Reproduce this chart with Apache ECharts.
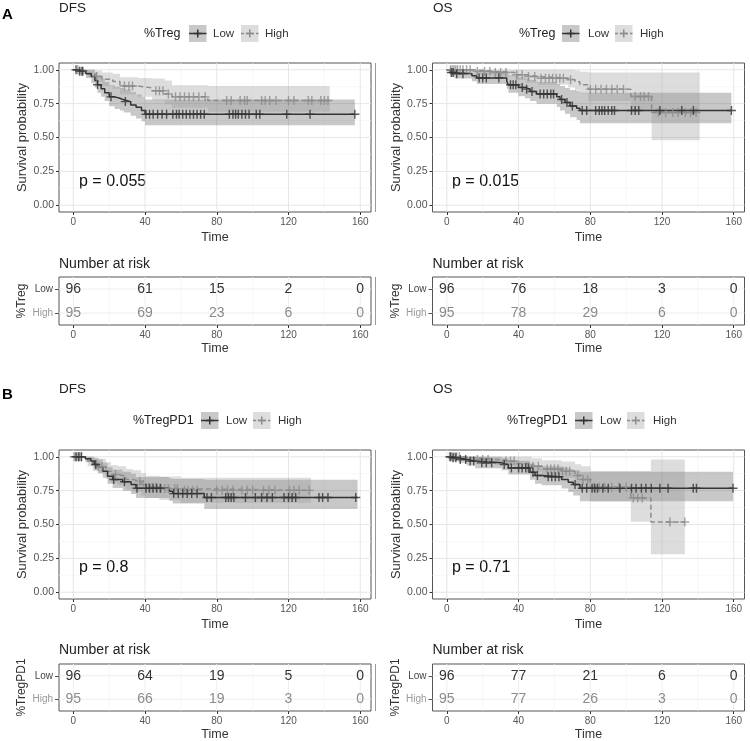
<!DOCTYPE html>
<html><head><meta charset="utf-8">
<script src="https://cdn.jsdelivr.net/npm/echarts@6/dist/echarts.min.js"></script>
<style>html,body{margin:0;padding:0;background:#fff}#c{width:750px;height:741px}</style>
</head><body><div id="c"></div>
<script>
// ---------- shared ticks ----------
const timeTicks = [0, 40, 80, 120, 160];
const timeMinor = [20, 60, 100, 140];
const survTicks = [0, 0.25, 0.5, 0.75, 1];
const survTickLabels = ['0.00', '0.25', '0.50', '0.75', '1.00'];
const survMinor = [0.125, 0.375, 0.625, 0.875];
const riskTimes = [0, 40, 80, 120, 160];
const groupNames = ['High', 'Low'];

// ---------- Panel A, DFS ----------
const aDfsLowTime  = [0, 3, 7, 10, 12, 13.5, 15.5, 17.5, 20, 23, 26, 28, 32, 35, 38, 40, 157];
const aDfsLowSurv  = [1, 0.99, 0.97, 0.95, 0.92, 0.89, 0.86, 0.83, 0.80, 0.79, 0.778, 0.765, 0.74, 0.723, 0.70, 0.672, 0.672];
const aDfsLowLower = [1, 0.97, 0.94, 0.90, 0.87, 0.83, 0.80, 0.77, 0.73, 0.71, 0.70, 0.685, 0.66, 0.64, 0.62, 0.59, 0.59];
const aDfsLowUpper = [1, 1, 1, 1, 0.98, 0.96, 0.935, 0.91, 0.885, 0.875, 0.865, 0.855, 0.835, 0.82, 0.80, 0.78, 0.78];
const aDfsLowCensor = [1.5, 3.5, 5, 13.5, 21, 29, 40.5, 42.5, 44.5, 47, 49.5, 52, 55.5, 57.5, 59, 61, 63, 65, 67, 69, 71, 73, 87, 89, 90.5, 92, 94, 96, 98, 102, 104, 119, 132, 157];
const aDfsHighTime  = [0, 4, 8, 12, 16, 22, 26, 36, 44, 51, 55, 75, 143];
const aDfsHighSurv  = [1, 0.99, 0.975, 0.95, 0.93, 0.914, 0.88, 0.866, 0.845, 0.822, 0.80, 0.773, 0.773];
const aDfsHighLower = [1, 0.97, 0.945, 0.91, 0.88, 0.86, 0.82, 0.80, 0.775, 0.745, 0.72, 0.69, 0.69];
const aDfsHighUpper = [1, 1, 1, 0.995, 0.98, 0.97, 0.945, 0.94, 0.935, 0.92, 0.885, 0.88, 0.88];
const aDfsHighCensor = [2.5, 4.5, 5.5, 13, 28.5, 31, 33, 46, 48, 50, 53, 57, 59.5, 62, 64.5, 67, 70, 73.5, 85.5, 88, 93, 95.5, 97, 105, 107, 109.5, 113, 120, 123, 131, 133, 138, 140, 142];
const aDfsRiskLow  = [96, 61, 15, 2, 0];
const aDfsRiskHigh = [95, 69, 23, 6, 0];

// ---------- Panel A, OS ----------
const aOsLowTime  = [0, 2, 4.3, 14, 16.7, 33.4, 34.3, 40, 43.6, 46.4, 50, 61.3, 63.1, 65.9, 68.7, 72.4, 74.2, 158.7];
const aOsLowSurv  = [1, 0.98, 0.97, 0.955, 0.94, 0.915, 0.89, 0.87, 0.857, 0.84, 0.822, 0.80, 0.78, 0.758, 0.733, 0.716, 0.70, 0.70];
const aOsLowLower = [1, 0.95, 0.935, 0.915, 0.895, 0.86, 0.83, 0.805, 0.79, 0.77, 0.75, 0.725, 0.70, 0.675, 0.65, 0.63, 0.605, 0.605];
const aOsLowUpper = [1, 1, 1, 0.995, 0.99, 0.975, 0.96, 0.945, 0.935, 0.925, 0.91, 0.895, 0.88, 0.865, 0.85, 0.845, 0.83, 0.83];
const aOsLowCensor = [2.5, 3.5, 5.5, 9, 18, 20, 22, 29, 35.5, 37, 38.5, 42, 44.5, 47.5, 52, 54, 56, 58, 59.5, 64, 67, 70, 75.5, 78, 83, 85, 86.5, 88, 90, 92, 93.5, 103, 105, 107, 118.8, 131, 137.5, 158.7];
const aOsHighTime  = [0, 15.8, 26, 38, 44.5, 51, 67.7, 71.5, 74.2, 78.9, 102.6, 114.2, 141];
const aOsHighSurv  = [1, 0.988, 0.98, 0.963, 0.95, 0.938, 0.926, 0.911, 0.889, 0.857, 0.802, 0.684, 0.684];
const aOsHighLower = [1, 0.965, 0.95, 0.925, 0.905, 0.89, 0.87, 0.85, 0.825, 0.77, 0.70, 0.48, 0.48];
const aOsHighUpper = [1, 1, 1, 1, 1, 1, 1, 0.995, 0.985, 0.98, 0.98, 0.98, 0.98];
const aOsHighCensor = [2, 3, 4, 5, 6, 7.5, 9, 11, 13, 17, 21, 24, 27, 30, 33, 39, 42, 45.5, 49, 52.5, 55, 57, 59, 61, 63, 65, 69, 80, 83, 86, 89, 92, 95, 98.5, 105, 108, 110, 112.5, 118, 122, 126, 129, 133, 136, 139];
const aOsRiskLow  = [96, 76, 18, 3, 0];
const aOsRiskHigh = [95, 78, 29, 6, 0];

// ---------- Panel B, DFS ----------
const bDfsLowTime  = [0, 6.7, 9.8, 11.7, 14.1, 16.4, 19.1, 21.9, 27.5, 32.2, 34.9, 53.5, 55.4, 73, 158.5];
const bDfsLowSurv  = [1, 0.985, 0.968, 0.943, 0.926, 0.894, 0.857, 0.832, 0.815, 0.795, 0.768, 0.746, 0.728, 0.70, 0.70];
const bDfsLowLower = [1, 0.96, 0.935, 0.905, 0.88, 0.845, 0.80, 0.77, 0.75, 0.725, 0.695, 0.675, 0.655, 0.615, 0.615];
const bDfsLowUpper = [1, 1, 1, 0.99, 0.98, 0.955, 0.925, 0.905, 0.89, 0.875, 0.85, 0.84, 0.835, 0.83, 0.83];
const bDfsLowCensor = [1.5, 3, 4.5, 12.5, 22.5, 28.5, 35.5, 40.5, 42.5, 44.5, 46.5, 48.5, 56, 58.5, 61, 63.5, 66, 69, 74.5, 77, 85, 86.5, 88, 89.5, 96, 101.5, 105, 108, 111, 117.5, 120, 122, 124, 137, 139, 142, 157.5];
const bDfsHighTime  = [0, 8, 10.8, 13.6, 18.2, 21, 24.7, 29.4, 33.1, 37.7, 40.5, 48, 60, 132.5];
const bDfsHighSurv  = [1, 0.968, 0.943, 0.926, 0.894, 0.869, 0.857, 0.832, 0.82, 0.795, 0.775, 0.765, 0.752, 0.752];
const bDfsHighLower = [1, 0.93, 0.895, 0.875, 0.835, 0.805, 0.79, 0.76, 0.745, 0.715, 0.695, 0.68, 0.66, 0.66];
const bDfsHighUpper = [1, 1, 0.995, 0.985, 0.96, 0.94, 0.93, 0.91, 0.90, 0.88, 0.86, 0.855, 0.845, 0.845];
const bDfsHighCensor = [0.5, 1.5, 2.5, 3.5, 4.5, 14, 16, 23.5, 37, 39, 42, 44, 46, 49, 51, 53, 56.5, 58, 62, 64, 66.5, 69, 80, 83, 86, 89, 94, 97, 100, 106, 109, 112.5, 120.5, 123, 126, 131.5];
const bDfsRiskLow  = [96, 64, 19, 5, 0];
const bDfsRiskHigh = [95, 66, 19, 3, 0];

// ---------- Panel B, OS ----------
const bOsLowTime  = [0, 2.4, 6.5, 11.1, 15.8, 30.6, 34.3, 46.4, 49.2, 52.9, 64, 67.7, 70.5, 74.2, 159.6];
const bOsLowSurv  = [1, 0.993, 0.98, 0.968, 0.955, 0.943, 0.918, 0.886, 0.862, 0.852, 0.832, 0.812, 0.795, 0.768, 0.768];
const bOsLowLower = [1, 0.98, 0.955, 0.935, 0.915, 0.9, 0.87, 0.83, 0.80, 0.79, 0.765, 0.74, 0.715, 0.672, 0.672];
const bOsLowUpper = [1, 1, 1, 1, 1, 0.99, 0.97, 0.95, 0.935, 0.93, 0.92, 0.91, 0.90, 0.89, 0.89];
const bOsLowCensor = [2, 3.5, 5, 7.5, 10.5, 13, 15, 19.5, 22, 25, 32, 36, 40, 42, 44, 45.5, 48, 50.5, 56.5, 58.5, 60.5, 62.5, 71.5, 75.5, 78, 81, 82.5, 84, 87, 90, 96.5, 103, 105.5, 108.5, 111, 114, 118.8, 123.4, 137.4, 139.2, 159.6];
const bOsHighTime  = [0, 8.4, 15.8, 27, 38, 47.3, 53, 64, 71.5, 75, 80, 102.6, 113.8, 132.7];
const bOsHighSurv  = [1, 0.993, 0.98, 0.968, 0.95, 0.93, 0.91, 0.894, 0.862, 0.832, 0.775, 0.696, 0.519, 0.519];
const bOsHighLower = [1, 0.98, 0.96, 0.94, 0.915, 0.89, 0.865, 0.845, 0.805, 0.77, 0.67, 0.52, 0.28, 0.28];
const bOsHighUpper = [1, 1, 1, 1, 1, 0.99, 0.975, 0.965, 0.945, 0.93, 0.895, 0.895, 0.98, 0.98];
const bOsHighCensor = [1.5, 2.5, 3.5, 4.5, 5.5, 7, 17, 20, 23, 33, 35.5, 37.5, 48, 51, 56, 58, 60, 62, 64.5, 66.5, 68.5, 73, 76, 78.5, 82, 85, 88, 92, 96, 100, 104, 106.5, 109, 124.4, 132.7];
const bOsRiskLow  = [96, 77, 21, 6, 0];
const bOsRiskHigh = [95, 77, 26, 3, 0];

// ---------- styling ----------
const FF = '"Liberation Sans", Arial, Helvetica, sans-serif';
const LOW_LINE = '#333333', HIGH_LINE = '#8c8c8c';
const LOW_FILL = 'rgba(51,51,51,0.27)', HIGH_FILL = 'rgba(153,153,153,0.33)';
const PLUS = 'path://M0,4.2H10V5.8H0Z M4.2,0H5.8V10H4.2Z';

const panels = [
  { title: 'DFS', factor: '%Treg', p: 'p = 0.055', col: 0, row: 0,
    low: { t: aDfsLowTime, s: aDfsLowSurv, lo: aDfsLowLower, hi: aDfsLowUpper, c: aDfsLowCensor },
    high: { t: aDfsHighTime, s: aDfsHighSurv, lo: aDfsHighLower, hi: aDfsHighUpper, c: aDfsHighCensor },
    riskLow: aDfsRiskLow, riskHigh: aDfsRiskHigh,
    leg: { title: 144, k1: 189, low: 213, k2: 241, high: 265 } },
  { title: 'OS', factor: '%Treg', p: 'p = 0.015', col: 1, row: 0,
    low: { t: aOsLowTime, s: aOsLowSurv, lo: aOsLowLower, hi: aOsLowUpper, c: aOsLowCensor },
    high: { t: aOsHighTime, s: aOsHighSurv, lo: aOsHighLower, hi: aOsHighUpper, c: aOsHighCensor },
    riskLow: aOsRiskLow, riskHigh: aOsRiskHigh,
    leg: { title: 519, k1: 562, low: 588, k2: 615, high: 640 } },
  { title: 'DFS', factor: '%TregPD1', p: 'p = 0.8', col: 0, row: 1,
    low: { t: bDfsLowTime, s: bDfsLowSurv, lo: bDfsLowLower, hi: bDfsLowUpper, c: bDfsLowCensor },
    high: { t: bDfsHighTime, s: bDfsHighSurv, lo: bDfsHighLower, hi: bDfsHighUpper, c: bDfsHighCensor },
    riskLow: bDfsRiskLow, riskHigh: bDfsRiskHigh,
    leg: { title: 133, k1: 201, low: 226, k2: 253, high: 278 } },
  { title: 'OS', factor: '%TregPD1', p: 'p = 0.71', col: 1, row: 1,
    low: { t: bOsLowTime, s: bOsLowSurv, lo: bOsLowLower, hi: bOsLowUpper, c: bOsLowCensor },
    high: { t: bOsHighTime, s: bOsHighSurv, lo: bOsHighLower, hi: bOsHighUpper, c: bOsHighCensor },
    riskLow: bOsRiskLow, riskHigh: bOsRiskHigh,
    leg: { title: 507, k1: 575, low: 600, k2: 627, high: 653 } }
];

function stepAt(times, surv, t) {
  let v = surv[0];
  for (let i = 0; i < times.length; i++) if (times[i] <= t) v = surv[i];
  return v;
}
function vLines(gi, vals, color, w) {
  return { type: 'custom', xAxisIndex: gi, yAxisIndex: gi, z: 0, silent: true,
    data: vals.map(v => [v, 0]),
    renderItem: (params, api) => {
      const cs = params.coordSys; const p = api.coord([api.value(0), api.value(1)]);
      return { type: 'line', shape: { x1: p[0], y1: cs.y, x2: p[0], y2: cs.y + cs.height }, style: { stroke: color, lineWidth: w } };
    } };
}
function hLines(gi, vals, color, w) {
  return { type: 'custom', xAxisIndex: gi, yAxisIndex: gi, z: 0, silent: true,
    data: vals.map(v => [0, v]),
    renderItem: (params, api) => {
      const cs = params.coordSys; const p = api.coord([api.value(0), api.value(1)]);
      return { type: 'line', shape: { x1: cs.x, y1: p[1], x2: cs.x + cs.width, y2: p[1] }, style: { stroke: color, lineWidth: w } };
    } };
}
function band(gi, g, fill) {
  return { type: 'custom', xAxisIndex: gi, yAxisIndex: gi, z: 1, silent: true,
    data: [[g.t[0], g.s[0]]],
    renderItem: (params, api) => {
      const up = [], dn = [];
      for (let i = 0; i < g.t.length - 1; i++) {
        up.push(api.coord([g.t[i], g.hi[i]]), api.coord([g.t[i + 1], g.hi[i]]));
        dn.push(api.coord([g.t[i], g.lo[i]]), api.coord([g.t[i + 1], g.lo[i]]));
      }
      return { type: 'polygon', shape: { points: up.concat(dn.reverse()) }, style: { fill: fill } };
    } };
}
function curve(gi, g, color, dashed) {
  return { type: 'line', xAxisIndex: gi, yAxisIndex: gi, z: 2, silent: true, step: 'end', symbol: 'none',
    data: g.t.map((t, i) => [t, g.s[i]]),
    lineStyle: { color: color, width: 1.5, type: dashed ? [5, 3] : 'solid' } };
}
function censor(gi, g, color) {
  return { type: 'scatter', xAxisIndex: gi, yAxisIndex: gi, z: 3, silent: true, symbol: PLUS, symbolSize: 9,
    data: g.c.map(t => [t, stepAt(g.t, g.s, t)]), itemStyle: { color: color } };
}

const grids = [], xAxes = [], yAxes = [], series = [], graphics = [];
function txt(x, y, text, opt) {
  graphics.push({ type: 'text', x: x, y: y, silent: true,
    style: Object.assign({ text: text, fill: '#222', font: '13px ' + FF, align: 'left', verticalAlign: 'middle' }, opt || {}) });
}
function legendKey(x, y, fill, color, dashed) {
  graphics.push({ type: 'rect', silent: true, shape: { x: x, y: y - 8.5, width: 17.5, height: 17 }, style: { fill: fill } });
  graphics.push({ type: 'line', silent: true, shape: { x1: x, y1: y, x2: x + 17.5, y2: y }, style: { stroke: color, lineWidth: 1.5, lineDash: dashed ? [3, 2] : null } });
  graphics.push({ type: 'line', silent: true, shape: { x1: x + 8.75, y1: y - 4, x2: x + 8.75, y2: y + 4 }, style: { stroke: color, lineWidth: 1.5 } });
  graphics.push({ type: 'line', silent: true, shape: { x1: x + 4.75, y1: y, x2: x + 12.75, y2: y }, style: { stroke: color, lineWidth: 1.5 } });
}

panels.forEach((pn, k) => {
  const left = pn.col ? 432.5 : 59;
  const plotTop = pn.row ? 450 : 63;
  const riskTop = pn.row ? 664 : 277;
  const riskH = pn.row ? 47 : 48;
  const gi = 2 * k, ri = 2 * k + 1;
  grids.push({ left: left, top: plotTop, width: 312, height: 149, show: true, borderColor: '#555', borderWidth: 1, backgroundColor: 'rgba(0,0,0,0)', containLabel: false, outerBoundsMode: 'none' });
  grids.push({ left: left, top: riskTop, width: 312, height: riskH, show: true, borderColor: '#555', borderWidth: 1, backgroundColor: 'rgba(0,0,0,0)', containLabel: false, outerBoundsMode: 'none' });

  const xCommon = (g, gap) => ({ gridIndex: g, type: 'value', min: -8, max: 166,
    axisLine: { show: false, onZero: false }, splitLine: { show: false },
    axisTick: { show: true, length: 3, customValues: timeTicks, lineStyle: { color: '#333', width: 1 } },
    axisLabel: { customValues: timeTicks, fontSize: 10, color: '#555', margin: 5, fontFamily: FF },
    name: 'Time', nameLocation: 'middle', nameGap: gap, nameTextStyle: { fontSize: 12.5, color: '#333', fontFamily: FF } });
  xAxes.push(xCommon(gi, 19));
  xAxes.push(xCommon(ri, 17));

  yAxes.push({ gridIndex: gi, type: 'value', min: -0.05, max: 1.05,
    axisLine: { show: false, onZero: false }, splitLine: { show: false },
    axisTick: { show: true, length: 3, customValues: survTicks, lineStyle: { color: '#333', width: 1 } },
    axisLabel: { customValues: survTicks, fontSize: 10.5, color: '#555', margin: 5, fontFamily: FF,
      formatter: v => { const i = survTicks.findIndex(s => Math.abs(s - v) < 1e-9); return i >= 0 ? survTickLabels[i] : ''; } },
    name: 'Survival probability', nameLocation: 'middle', nameGap: 30,
    nameTextStyle: { fontSize: 13, color: '#333', fontFamily: FF } });
  yAxes.push({ gridIndex: ri, type: 'category', data: groupNames,
    axisLine: { show: false, onZero: false }, splitLine: { show: false },
    axisTick: { show: true, length: 4, alignWithLabel: true, lineStyle: { color: '#555' } },
    axisLabel: { fontSize: 10, margin: 6, fontFamily: FF, color: (v) => v === 'Low' ? '#444' : '#999' },
    name: pn.factor, nameLocation: 'middle', nameGap: 31,
    nameTextStyle: { fontSize: 12, color: '#333', fontFamily: FF } });

  // plot
  series.push(vLines(gi, timeMinor, '#f3f3f3', 0.7));
  series.push(hLines(gi, survMinor, '#f3f3f3', 0.7));
  series.push(vLines(gi, timeTicks, '#e6e6e6', 1));
  series.push(hLines(gi, survTicks, '#e6e6e6', 1));
  series.push(band(gi, pn.low, LOW_FILL));
  series.push(band(gi, pn.high, HIGH_FILL));
  series.push(curve(gi, pn.high, HIGH_LINE, true));
  series.push(curve(gi, pn.low, LOW_LINE, false));
  series.push(censor(gi, pn.high, HIGH_LINE));
  series.push(censor(gi, pn.low, LOW_LINE));

  // risk table
  series.push(vLines(ri, timeMinor, '#f5f5f5', 0.7));
  series.push(vLines(ri, timeTicks, '#eeeeee', 1));
  series.push(hLines(ri, [0, 1], '#eeeeee', 1));
  series.push({ type: 'custom', xAxisIndex: ri, yAxisIndex: ri, z: 6, silent: true,
    data: riskTimes.map((t, j) => [t, 1, pn.riskLow[j]]).concat(riskTimes.map((t, j) => [t, 0, pn.riskHigh[j]])),
    renderItem: (params, api) => {
      const p = api.coord([api.value(0), api.value(1)]);
      const isLow = api.value(1) === 1;
      return { type: 'text', x: p[0], y: p[1], z2: 10,
        style: { text: String(api.value(2)), fill: isLow ? '#333' : '#8a8a8a', font: '14px ' + FF, align: 'center', verticalAlign: 'middle' } };
    } });

  // texts
  const titleY = pn.row ? 389.5 : 8.5;
  txt(pn.col ? 433 : 59, titleY, pn.title, { font: '13.5px ' + FF });
  txt(pn.col ? 452 : 79, pn.row ? 567.5 : 181.5, pn.p, { font: '16px ' + FF, fill: '#111' });
  txt(left, pn.row ? 650 : 264, 'Number at risk', { font: '14px ' + FF });
  const ly = pn.row ? 420.5 : 33.5;
  txt(pn.leg.title, ly, pn.factor, { font: '12.5px ' + FF });
  legendKey(pn.leg.k1, ly, LOW_FILL, LOW_LINE, false);
  txt(pn.leg.low, ly, 'Low', { font: '11.5px ' + FF, fill: '#333' });
  legendKey(pn.leg.k2, ly, HIGH_FILL, HIGH_LINE, true);
  txt(pn.leg.high, ly, 'High', { font: '11.5px ' + FF, fill: '#333' });
});

txt(2, 15, 'A', { font: 'bold 15px ' + FF, fill: '#000' });
txt(2, 395, 'B', { font: 'bold 15px ' + FF, fill: '#000' });
[[63, 212], [277, 325], [450, 599], [664, 711]].forEach(r => {
  graphics.push({ type: 'line', silent: true, shape: { x1: 375.5, y1: r[0], x2: 375.5, y2: r[1] }, style: { stroke: '#999', lineWidth: 1 } });
});

const chart = echarts.init(document.getElementById('c'), null, { renderer: 'canvas' });
chart.setOption({
  animation: false,
  backgroundColor: '#ffffff',
  textStyle: { fontFamily: FF },
  grid: grids, xAxis: xAxes, yAxis: yAxes, series: series,
  graphic: { elements: graphics }
});
</script></body></html>
